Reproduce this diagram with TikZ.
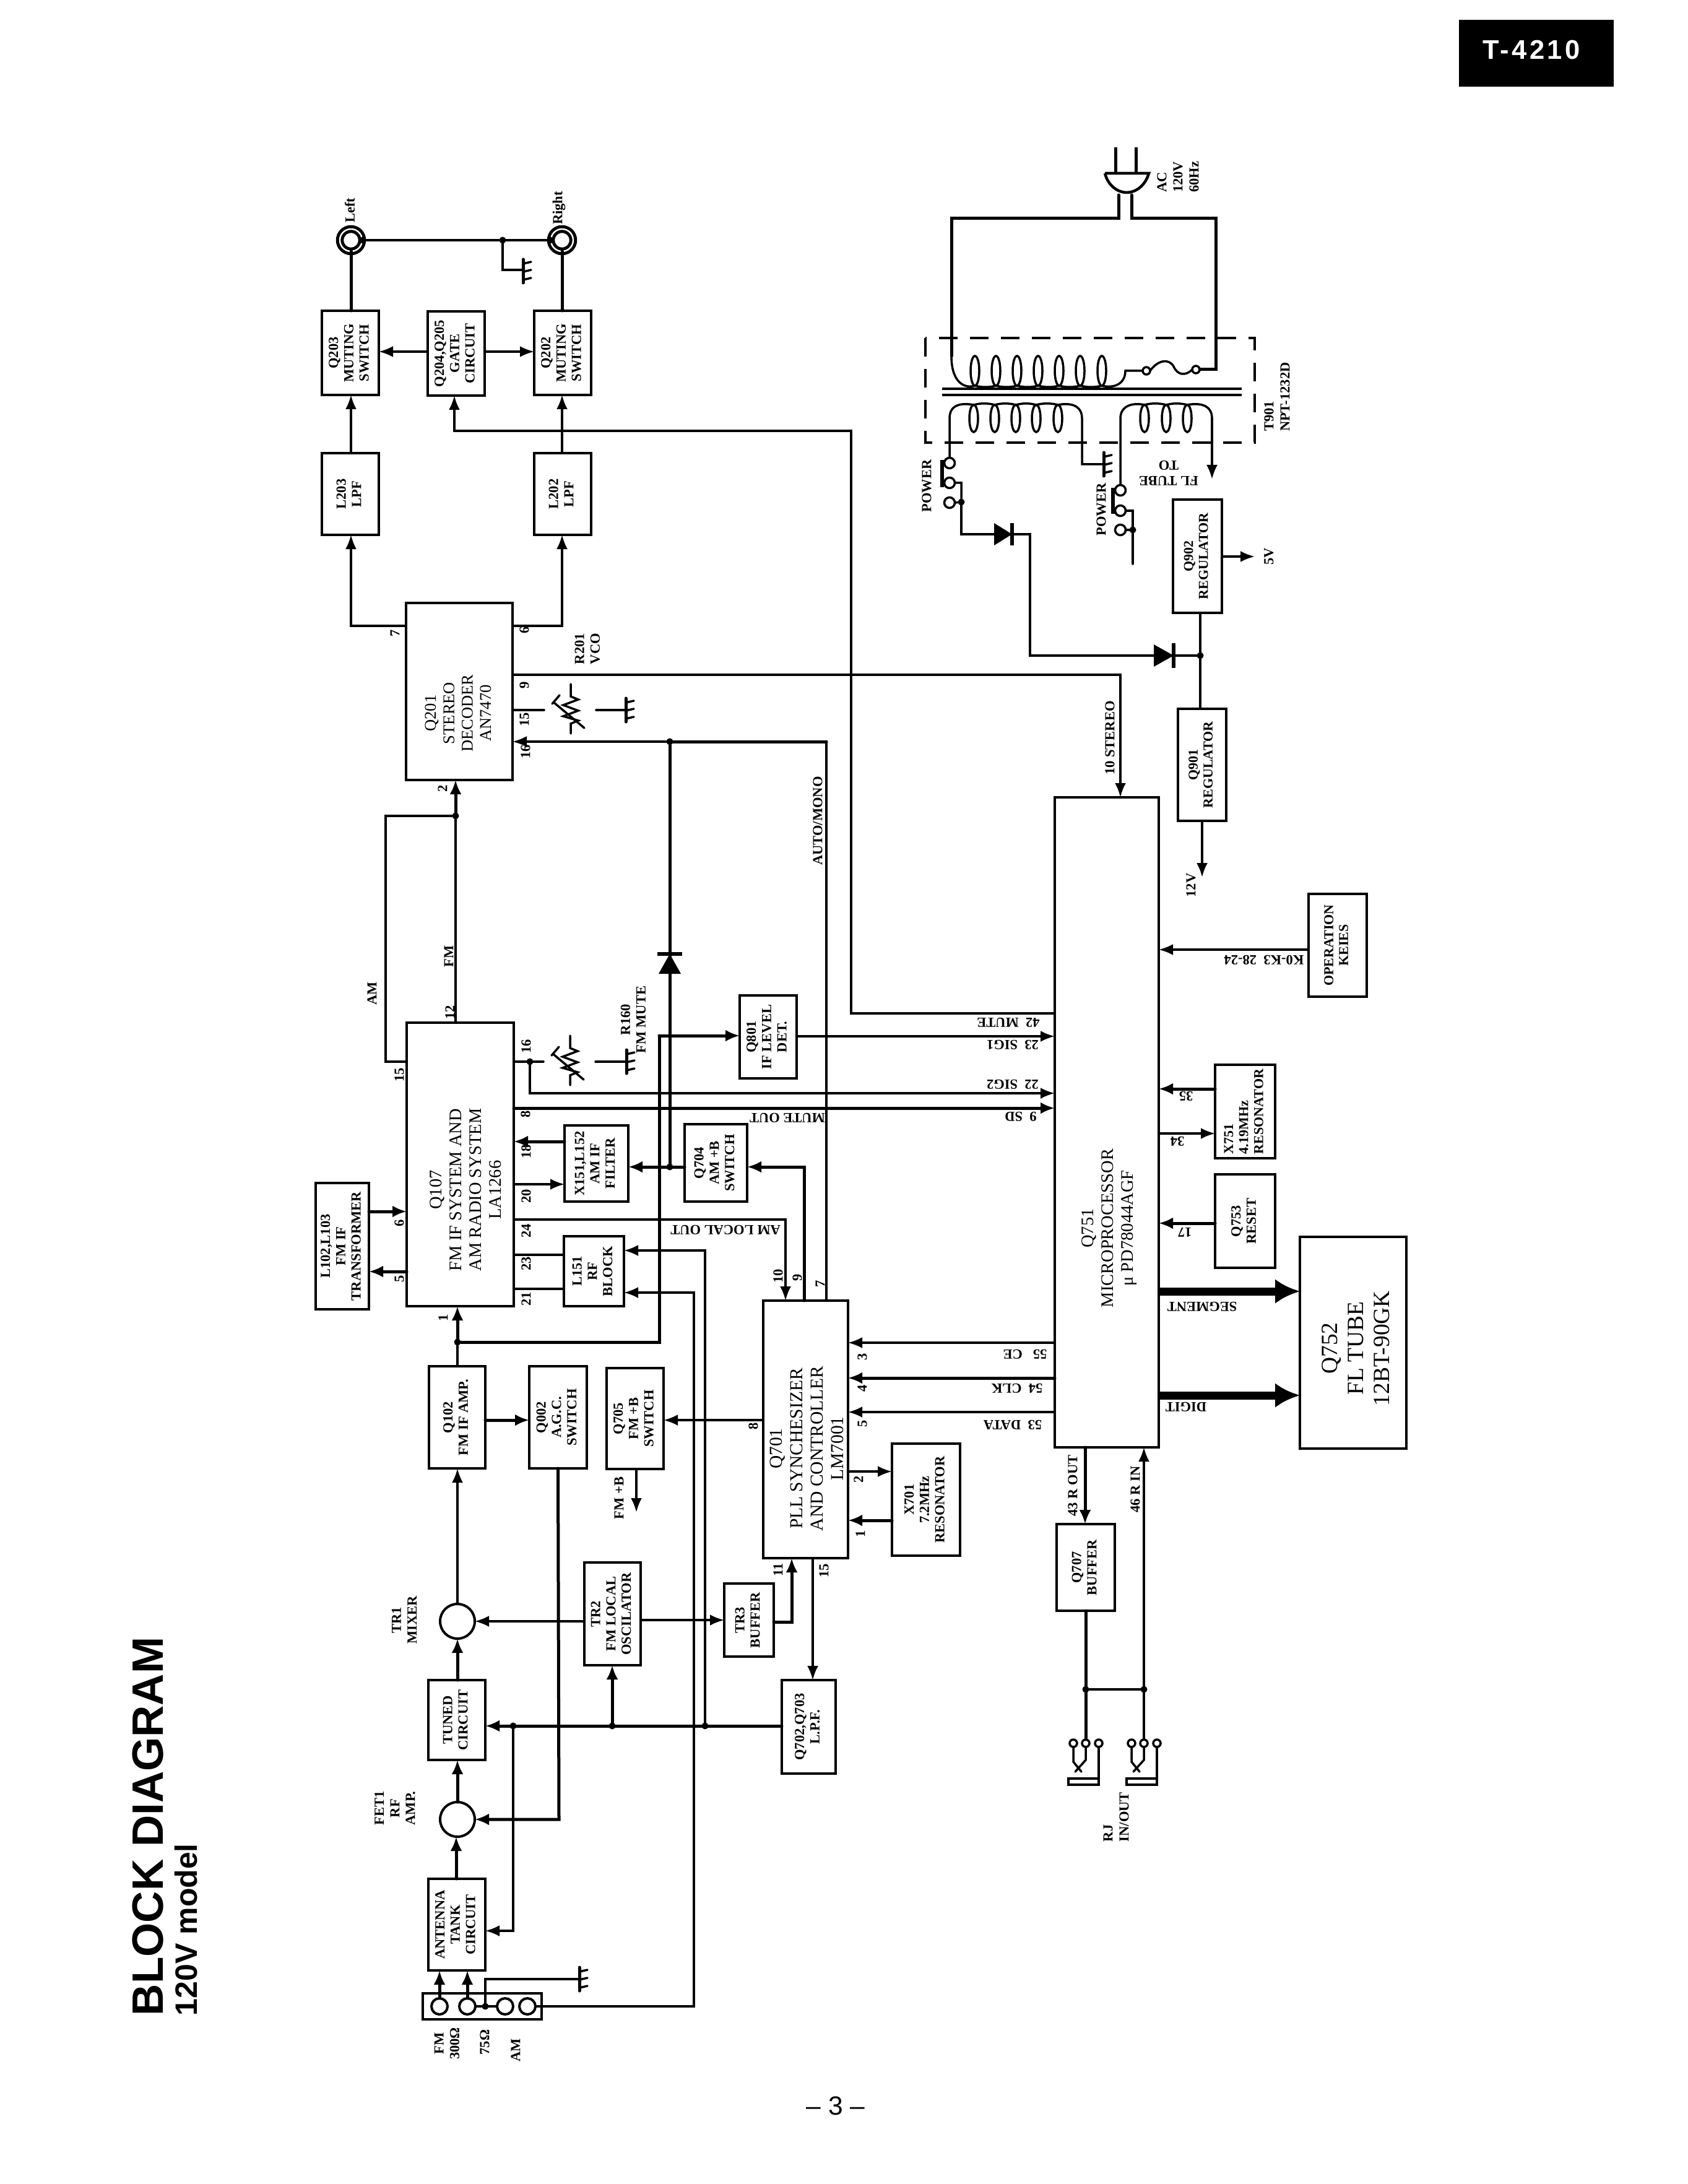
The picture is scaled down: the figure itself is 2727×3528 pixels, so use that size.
\documentclass[tikz,border=0pt]{standalone}
\usepackage{fontspec}
\usepackage{graphicx}
\usetikzlibrary{arrows.meta,calc}
\setmainfont{Liberation Serif}
\newfontfamily\hdfont{Liberation Sans}
\newfontfamily\tagfont[LetterSpace=10]{Liberation Sans}
\newcount\lbcnt
\newcommand\lfw{\bfseries}
\tikzset{
  wire/.style={line width=0.7pt,line cap=round,line join=miter},
  fat/.style={line width=1pt,line cap=round},
  arr/.style={wire,-{Latex[length=4.6pt,width=3.6pt]}},
  fatarr/.style={fat,-{Latex[length=4.6pt,width=3.8pt]}},
  hugearr/.style={line width=2.6pt,-{Latex[length=8pt,width=8pt]}},
  blk/.style={draw,line width=0.85pt,inner sep=0pt,outer sep=0pt,rectangle},
  lbl/.style={inner sep=0pt,outer sep=0pt,align=center},
  jn/.style={circle,fill=black,inner sep=0pt,outer sep=0pt,minimum size=2.2pt},
  ring/.style={circle,draw,line width=0.8pt,inner sep=0pt,outer sep=0pt,fill=white},
}
\newcommand\bx[7]{%
  \pgfmathsetmacro\bxcx{(#2+#4)/2}\pgfmathsetmacro\bxcy{(#3+#5)/2}%
  \pgfmathsetmacro\bxW{(#4-#2)*0.2}\pgfmathsetmacro\bxH{(#5-#3)*0.2}%
  \pgfmathsetmacro\lsk{#6*1.1}%
  \node[blk,minimum width=\bxW pt,minimum height=\bxH pt] (#1) at (\bxcx,\bxcy)
    {\rotatebox{90}{\fontsize{#6}{\lsk}\selectfont\lfw\begin{tabular}{@{}c@{}}#7\end{tabular}}};}
\newcommand\lb[5]{\global\advance\lbcnt by 1
  \pgfmathsetmacro\lsk{#4*1.12}%
  \node[lbl,rotate=#3,font=\fontsize{#4}{\lsk}\selectfont\lfw] (lb\the\lbcnt) at (#1,#2) {#5};}
\newcommand\lbr[5]{{\renewcommand\lfw{\mdseries}\lb{#1}{#2}{#3}{#4}{#5}}}
\newcommand\gnd[2]{\draw[fat] (#1,#2-19) -- (#1,#2+19);
  \foreach \dy in {-12,1,14} \draw[wire] (#1,#2+\dy) -- (#1+13,#2+\dy-3);}
\newcommand\varres[2]{%
  \draw[wire] (#1,#2-42) -- (#1,#2-22) -- (#1+12,#2-17) -- (#1-12,#2-8) -- (#1+12,#2+1) -- (#1-12,#2+10) -- (#1+12,#2+17) -- (#1,#2+22) -- (#1,#2+38);
  \draw[wire] (#1-27,#2-12) -- (#1+22,#2+29);
  \draw[wire] (#1-30,#2-10) -- (#1-18,#2-24);}
\newcommand\rjack[2]{%
  \node[ring,line width=.7pt,minimum size=2.4pt] (#2a) at (#1-20,2816) {};
  \node[ring,line width=.7pt,minimum size=2.4pt] (#2b) at (#1,2816) {};
  \node[ring,line width=.7pt,minimum size=2.4pt] (#2c) at (#1+21,2816) {};
  \draw[wire] (#2a.south) -- (#1-20,2846) -- (#1-7,2862);
  \draw[wire] (#2b.south) -- (#1,2843) -- (#1-17,2862);
  \draw[wire] (#2c.south) -- (#1+21,2883) -- (#1-28,2883) -- (#1-28,2873) -- (#1+21,2873);}
\begin{document}
\begin{tikzpicture}[x=0.2pt,y=-0.2pt]
\useasboundingbox (0,0) rectangle (2727,3528);
\fill[white] (0,0) rectangle (2727,3528);
% header and titles
\fill[black] (2357,32) rectangle (2607,140);
\node[lbl,text=white,font=\tagfont\bfseries\fontsize{8.7}{10}\selectfont] (tag) at (2474,81) {T-4210};
\node[lbl,rotate=90,anchor=base west,font=\hdfont\bfseries\fontsize{14.2}{17}\selectfont] (title) at (263,3256) {BLOCK DIAGRAM};
\node[lbl,rotate=90,anchor=base west,font=\hdfont\bfseries\fontsize{10}{12}\selectfont] (sub) at (318,3256) {120V model};
\node[lbl,font=\hdfont\fontsize{8.5}{10}\selectfont] (page) at (1350,3402) {– 3 –};
% blocks
\bx{ant}{692}{3035}{784}{3183}{4.5}{ANTENNA\\TANK\\CIRCUIT}
\bx{tuned}{692}{2714}{784}{2843}{4.5}{TUNED\\CIRCUIT}
\bx{q102}{693}{2207}{784}{2372}{4.5}{Q102\\FM IF AMP.}
\bx{q002}{855}{2207}{948}{2372}{4.5}{Q002\\A.G.C.\\SWITCH}
\bx{q705}{980}{2210}{1072}{2373}{4.5}{Q705\\FM +B\\SWITCH}
\bx{tr2}{944}{2524}{1035}{2690}{4.5}{TR2\\FM LOCAL\\OSCILATOR}
\bx{tr3}{1170}{2558}{1250}{2676}{4.5}{TR3\\BUFFER}
\bx{q702}{1263}{2714}{1350}{2865}{4.5}{Q702,Q703\\L.P.F.}
\bx{q701}{1233}{2101}{1370}{2517}{4.5}{}
\bx{x701}{1441}{2332}{1551}{2513}{4.5}{X701\\7.2MHz\\RESONATOR}
\bx{q107}{657}{1652}{830}{2110}{4.5}{}
\bx{l102}{510}{1911}{596}{2115}{4.5}{L102,L103\\FM IF\\TRANSFORMER}
\bx{x151}{912}{1818}{1015}{1941}{4.5}{X151,L152\\AM IF\\FILTER}
\bx{l151}{911}{1997}{1008}{2110}{4.5}{L151\\RF\\BLOCK}
\bx{q704}{1106}{1816}{1207}{1941}{4.5}{Q704\\AM +B\\SWITCH}
\bx{q801}{1195}{1608}{1287}{1742}{4.5}{Q801\\IF LEVEL\\DET.}
\bx{q201}{656}{974}{828}{1260}{4.5}{}
\bx{l203}{520}{732}{612}{864}{4.5}{L203\\LPF}
\bx{l202}{863}{732}{955}{864}{4.5}{L202\\LPF}
\bx{q203}{520}{502}{612}{638}{4.5}{Q203\\MUTING\\SWITCH}
\bx{q204}{691}{503}{783}{639}{4.5}{Q204,Q205\\GATE\\CIRCUIT}
\bx{q202}{863}{502}{955}{638}{4.5}{Q202\\MUTING\\SWITCH}
\bx{q751}{1704}{1288}{1872}{2338}{4.5}{}
\bx{q752}{2100}{1998}{2272}{2340}{4.5}{}
\bx{q707}{1707}{2462}{1801}{2602}{4.5}{Q707\\BUFFER}
\bx{x751}{1963}{1720}{2060}{1871}{4.4}{\multicolumn{1}{@{}l@{}}{X751}\\\multicolumn{1}{@{}l@{}}{4.19MHz}\\RESONATOR}
\bx{q753}{1963}{1897}{2060}{2048}{4.5}{Q753\\RESET}
\bx{oper}{2114}{1444}{2208}{1610}{4.4}{OPERATION\\KEIES}
\bx{q901}{1903}{1145}{1981}{1326}{4.4}{Q901\\REGULATOR}
\bx{q902}{1895}{807}{1974}{990}{4.4}{Q902\\REGULATOR}
\bx{strip}{683}{3220}{875}{3262}{4.5}{}
% block texts set apart from the centre
\lbr{752}{1922}{90}{5.7}{Q107\\FM IF SYSTEM AND\\AM RADIO SYSTEM\\LA1266}
\lbr{740}{1152}{90}{5.3}{Q201\\STEREO\\DECODER\\AN7470}
\lbr{1303}{2340}{90}{5.9}{Q701\\PLL SYNCHESIZER\\AND CONTROLLER\\LM7001}
\lbr{1792}{1984}{90}{5.7}{Q751\\MICROPROCESSOR\\μ PD78044AGF}
\lbr{2190}{2178}{90}{7.5}{Q752\\FL TUBE\\12BT-90GK}
% amplifiers, jacks, terminals
\node[ring,minimum size=11.2pt] (mix) at (739,2619) {};
\node[ring,minimum size=11.2pt] (fet) at (739,2939) {};
\node[ring,line width=1pt,minimum size=7.2pt,double,double distance=.5pt] (jl) at (567,388) {};
\node[ring,line width=1pt,minimum size=7.2pt,double,double distance=.5pt] (jr) at (908,388) {};
\node[ring,minimum size=5.2pt] (t1) at (710,3241) {};
\node[ring,minimum size=5.2pt] (t2) at (755,3241) {};
\node[ring,minimum size=5.2pt] (t3) at (816,3241) {};
\node[ring,minimum size=5.2pt] (t4) at (852,3241) {};
% junctions
\node[jn] (bus1) at (829,2788) {};
\node[jn] (bus2) at (989,2788) {};
\node[jn] (bus3) at (1139,2788) {};
\node[jn] (fmj) at (736,1318) {};
\node[jn] (ifj) at (739,2168) {};
\node[jn] (amj) at (1082,1885) {};
\node[jn] (mutej) at (1082,1198) {};
\node[jn] (pin16) at (856,1715) {};
\node[jn] (gndj) at (812,388) {};
\node[jn] (antj) at (784,3241) {};
\node[jn] (rj1) at (1754,2729) {};
\node[jn] (rj2) at (1848,2729) {};
\node[jn] (supj) at (1939,1059) {};
\node[jn] (swa) at (1553,811) {};
\node[jn] (swb) at (1830,856) {};
\node[jn] (jle) at (586,388) {};
\node[jn] (jrw) at (889,388) {};
% signal chain
\draw[fatarr] (ant.north -| 737,0) -- (fet.south -| 737,0);
\draw[fatarr] (fet.north) -- (tuned.south -| fet.north);
\draw[fatarr] (tuned.north -| mix.south) -- (mix.south);
\draw[arr] (mix.north) -- (q102.south -| mix.north);
\draw[wire] (q102.north -| ifj) -- (ifj);
\draw[fatarr] (ifj) -- (q107.south -| ifj);
\draw[fatarr] (t1.north) -- (ant.south -| t1.north);
\draw[fatarr] (t2.north) -- (ant.south -| t2.north);
\draw[wire] (t2.east) -- (t3.west);
\draw[wire] (antj) -- (784,3197) -- (936,3197);
\gnd{936}{3197}
\draw[arr] (t4.east) -- (1121,3241) -- (1121,2088) -- (l151.east |- 0,2088);
\draw[fatarr] (q702.west |- bus1) -- (tuned.east |- bus1);
\draw[arr] (bus1) -- (829,3119) -- (ant.east |- 0,3119);
\draw[fatarr] (bus2) -- (tr2.south -| bus2);
\draw[arr] (bus3) -- (1139,2020) -- (l151.east |- 0,2020);
\draw[fatarr] (q002.south) -- (903,2939) -- (fet.east);
\draw[fatarr] (q102.east |- 0,2294) -- (q002.west |- 0,2294);
\draw[arr] (tr2.west |- mix) -- (mix.east);
\draw[arr] (tr2.east |- 0,2617) -- (tr3.west |- 0,2617);
\draw[fatarr] (tr3.east |- 0,2620) -- (1279,2620) -- (q701.south -| 1279,0);
\draw[arr] (q701.south -| 1313,0) -- (q702.north -| 1313,0);
\draw[arr] (q701.west |- 0,2294) -- (q705.east |- 0,2294);
\draw[arr] (q705.south -| 1028,0) -- (1028,2443);
\draw[arr] (q701.east |- 0,2377) -- (x701.west |- 0,2377);
\draw[fatarr] (x701.west |- 0,2456) -- (q701.east |- 0,2456);
% Q107
\draw[fatarr] (x151.west |- 0,1844) -- (q107.east |- 0,1844);
\draw[arr] (q107.east |- 0,1913) -- (x151.west |- 0,1913);
\draw[arr] (q107.east |- 0,1970) -- (1269,1970) -- (q701.north -| 1269,0);
\draw[wire] (q107.east |- 0,2027) -- (l151.west |- 0,2027);
\draw[wire] (q107.east |- 0,2082) -- (l151.west |- 0,2082);
\draw[fatarr] (l102.east |- 0,1957) -- (q107.west |- 0,1957);
\draw[fatarr] (q107.west |- 0,2054) -- (l102.east |- 0,2054);
\draw[wire] (q107.west |- 0,1715) -- (623,1715) -- (623,1318) -- (fmj);
\draw[wire] (q107.north -| fmj) -- (fmj);
\draw[fatarr] (fmj) -- (q201.south -| fmj);
\draw[wire] (q107.east |- pin16) -- (878,1715);
\draw[arr] (pin16) -- (856,1766) -- (q751.west |- 0,1766);
\draw[fatarr] (q107.east |- 0,1790) -- (q751.west |- 0,1790);
\varres{921}{1715}
\draw[wire] (962,1715) -- (1012,1715);
\gnd{1012}{1715}
% mute / AM +B network
\draw[fatarr] (q704.west |- amj) -- (x151.east |- amj);
\draw[fat] (amj) -- (mutej);
\fill (1082,1541) -- (1100,1573) -- (1064,1573) -- cycle;
\draw[line width=1.1pt] (1062,1541) -- (1102,1541);
\draw[fat] (ifj) -- (1065,2168) -- (1065,1673);
\draw[fatarr] (1065,1673) -- (q801.west |- 0,1673);
\draw[arr] (q801.east |- 0,1674) -- (q751.west |- 0,1674);
\draw[fatarr] (q701.north -| 1299,0) -- (1299,1885) -- (q704.east |- 0,1885);
\draw[arr] (q701.north -| 1335,0) -- (1335,1198) -- (q201.east |- 0,1198);
\draw[fat] (mutej) -- (1335,1198);
\draw[arr] (q751.west |- 0,1637) -- (1375,1637) -- (1375,696) -- (734,696) -- (q204.south -| 734,0);
% stereo decoder
\draw[arr] (q201.west |- 0,1011) -- (567,1011) -- (l203.south -| 567,0);
\draw[arr] (q201.east |- 0,1011) -- (908,1011) -- (l202.south -| 908,0);
\draw[arr] (q201.east |- 0,1090) -- (1810,1090) -- (q751.north -| 1810,0);
\draw[wire] (q201.east |- 0,1147) -- (879,1147);
\varres{922}{1147}
\draw[wire] (963,1147) -- (1011,1147);
\gnd{1011}{1147}
\draw[arr] (l203.north -| 567,0) -- (q203.south -| 567,0);
\draw[arr] (l202.north -| 908,0) -- (q202.south -| 908,0);
\draw[arr] (q204.west |- 0,568) -- (q203.east |- 0,568);
\draw[arr] (q204.east |- 0,568) -- (q202.west |- 0,568);
\draw[fat] (q203.north -| jl) -- (jl.south);
\draw[fat] (q202.north -| jr) -- (jr.south);
\draw[wire] (jle) -- (jrw);
\draw[wire] (gndj) -- (812,436) -- (845,436);
\gnd{845}{438}
% microprocessor
\draw[arr] (q751.west |- 0,2169) -- (q701.east |- 0,2169);
\draw[fatarr] (q751.west |- 0,2226) -- (q701.east |- 0,2226);
\draw[arr] (q751.west |- 0,2281) -- (q701.east |- 0,2281);
\draw[hugearr] (q751.east |- 0,2086) -- (q752.west |- 0,2086);
\draw[hugearr] (q751.east |- 0,2254) -- (q752.west |- 0,2254);
\draw[arr] (oper.west |- 0,1534) -- (q751.east |- 0,1534);
\draw[fatarr] (x751.west |- 0,1759) -- (q751.east |- 0,1759);
\draw[arr] (q751.east |- 0,1831) -- (x751.west |- 0,1831);
\draw[fatarr] (q753.west |- 0,1976) -- (q751.east |- 0,1976);
\draw[fatarr] (q751.south -| 1753,0) -- (q707.north -| 1753,0);
\rjack{1754}{ja}
\rjack{1848}{jb}
\draw[fat] (q707.south -| rj1) -- (jab.north);
\draw[wire] (rj1) -- (rj2);
\draw[arr] (jbb.north) -- (q751.south -| jbb);
% supply
\draw[wire] (q902.south -| supj) -- (q901.north -| supj);
\draw[arr] (q902.east |- 0,899) -- (2027,899);
\draw[arr] (q901.south -| 1942,0) -- (1942,1417);
\fill (1864,1041) -- (1896,1059) -- (1864,1077) -- cycle;
\draw[line width=1.1pt] (1896,1039) -- (1896,1079);
\draw[wire] (supj) -- (1664,1059) -- (1664,863) -- (1635,863);
\fill (1606,845) -- (1635,863) -- (1606,881) -- cycle;
\draw[line width=1.1pt] (1635,845) -- (1635,881);
\draw[wire] (1606,863) -- (swa |- 0,863) -- (swa);
% transformer
\draw[line width=.8pt,dashed,dash pattern=on 6pt off 4pt] (1495,546) rectangle (2027,715);
\draw[line width=.9pt] (1522,628) -- (2006,628) (1522,638) -- (2006,638);
\foreach \cxx in {1575,1609,1643,1677,1711,1745,1780} \draw[wire] (\cxx,599) ellipse [x radius=7,y radius=24];
\foreach \ca/\cb in {1575/1609,1609/1643,1643/1677,1677/1711,1711/1745,1745/1780} \draw[wire] (\ca,623) .. controls (\ca+12,626) and (\cb-12,626) .. (\cb,623);
\draw[fat] (1807,315) -- (1807,353) -- (1537,353) -- (1537,575);
\draw[wire] (1537,575) .. controls (1537,620) and (1560,628) .. (1575,623);
\draw[wire] (1780,623) .. controls (1800,628) and (1818,620) .. (1818,599) -- (1845,599);
\node[ring,line width=.7pt,minimum size=2.4pt] (fa) at (1852,599) {};
\node[ring,line width=.7pt,minimum size=2.4pt] (fb) at (1932,597) {};
\draw[wire] (fa.east) .. controls (1870,582) and (1888,578) .. (1896,592) .. controls (1902,606) and (1915,608) .. (fb.west);
\draw[fat] (fb.east) -- (1964,597) -- (1964,353) -- (1828,353) -- (1828,315);
\foreach \cxx in {1573,1607,1641,1674,1709,1849,1884,1918} \draw[wire] (\cxx,676) ellipse [x radius=7,y radius=22];
\foreach \ca/\cb in {1573/1607,1607/1641,1641/1674,1674/1709,1849/1884,1884/1918} \draw[wire] (\ca,654) .. controls (\ca+12,651) and (\cb-12,651) .. (\cb,654);
\node[ring,line width=.7pt,minimum size=3.4pt] (sa1) at (1534,748) {};
\node[ring,line width=.7pt,minimum size=3.4pt] (sa2) at (1534,780) {};
\node[ring,line width=.7pt,minimum size=3.4pt] (sa3) at (1534,812) {};
\node[ring,line width=.7pt,minimum size=3.4pt] (sb1) at (1810,792) {};
\node[ring,line width=.7pt,minimum size=3.4pt] (sb2) at (1810,825) {};
\node[ring,line width=.7pt,minimum size=3.4pt] (sb3) at (1810,856) {};
\draw[wire] (sa1.north) -- (1534,676) .. controls (1534,655) and (1550,650) .. (1573,654);
\draw[wire] (1709,654) .. controls (1730,650) and (1748,655) .. (1748,676) -- (1748,750) -- (1783,750);
\gnd{1783}{750}
\draw[wire] (sb1.north) -- (1810,676) .. controls (1810,655) and (1830,650) .. (1849,654);
\draw[wire] (1918,654) .. controls (1940,650) and (1958,655) .. (1958,676);
\draw[arr] (1958,676) -- (1958,774);
\draw[line width=1.2pt] (1522,743) -- (1522,787) (1798,788) -- (1798,830);
\draw[wire] (sa2.east) -- (swa |- sa2) -- (swa) (sa3.east) -- (swa);
\draw[wire] (sb2.east) -- (swb |- sb2) -- (swb) -- (1830,911) (sb3.east) -- (swb);
% plug
\draw[line width=1pt] (1802,238) -- (1802,280) (1835,238) -- (1835,280);
\draw[line width=.9pt] (1785,280) -- (1856,280) .. controls (1850,300) and (1835,311) .. (1820,311) .. controls (1806,311) and (1790,300) .. (1785,280);
% labels
\lb{565}{340}{90}{4.5}{Left}
\lb{903}{336}{90}{4.5}{Right}
\lb{949}{1048}{90}{4.5}{R201\\VCO}
\lb{638}{1023}{90}{4.5}{7}
\lb{847}{1018}{90}{4.5}{6}
\lb{847}{1107}{90}{4.5}{9}
\lb{847}{1162}{90}{4.5}{15}
\lb{849}{1214}{90}{4.5}{16}
\lb{715}{1274}{90}{4.5}{2}
\lb{601}{1605}{90}{4.5}{AM}
\lb{725}{1545}{90}{4.5}{FM}
\lb{727}{1635}{90}{4.5}{12}
\lb{645}{1736}{90}{4.5}{15}
\lb{850}{1690}{90}{4.5}{16}
\lb{849}{1800}{90}{4.5}{8}
\lb{850}{1860}{90}{4.5}{18}
\lb{850}{1932}{90}{4.5}{20}
\lb{850}{1988}{90}{4.5}{24}
\lb{850}{2041}{90}{4.5}{23}
\lb{850}{2098}{90}{4.5}{21}
\lb{645}{1976}{90}{4.5}{6}
\lb{645}{2066}{90}{4.5}{5}
\lb{716}{2129}{90}{4.5}{1}
\lb{1023}{1647}{90}{4.5}{R160\\FM MUTE}
\lb{1272}{1806}{180}{4.5}{MUTE OUT}
\lb{1172}{1987}{180}{4.5}{AM LOCAL OUT}
\lb{1257}{2061}{90}{4.5}{10}
\lb{1288}{2064}{90}{4.5}{9}
\lb{1325}{2074}{90}{4.5}{7}
\lb{1393}{2192}{90}{4.5}{3}
\lb{1393}{2243}{90}{4.5}{4}
\lb{1393}{2300}{90}{4.5}{5}
\lb{1387}{2390}{90}{4.5}{2}
\lb{1390}{2478}{90}{4.5}{1}
\lb{1217}{2304}{90}{4.5}{8}
\lb{1257}{2536}{90}{4.5}{11}
\lb{1331}{2537}{90}{4.5}{15}
\lb{653}{2617}{90}{4.5}{TR1\\MIXER}
\lb{638}{2921}{90}{4.5}{FET1\\RF\\AMP.}
\lb{722}{3301}{90}{4.5}{FM\\300Ω}
\lb{783}{3299}{90}{4.5}{75Ω}
\lb{833}{3312}{90}{4.5}{AM}
\lb{1000}{2420}{90}{4.5}{FM +B}
\lb{1629}{1652}{180}{4.5}{42~~MUTE}
\lb{1636}{1688}{180}{4.5}{23~~SIG1}
\lb{1636}{1752}{180}{4.5}{22~~SIG2}
\lb{1649}{1804}{180}{4.5}{9~~SD}
\lb{2042}{1551}{180}{4.5}{K0-K3~~28-24}
\lb{1916}{1771}{180}{4.5}{35}
\lb{1902}{1844}{180}{4.5}{34}
\lb{1914}{1991}{180}{4.5}{17}
\lb{1942}{2111}{180}{4.5}{SEGMENT}
\lb{1916}{2273}{180}{4.5}{DIGIT}
\lb{1321}{1326}{90}{4.5}{AUTO/MONO}
\lb{1924}{1430}{90}{4.5}{12V}
\lb{1793}{1192}{90}{4.5}{10 STEREO}
\lb{1656}{2188}{180}{4.5}{55~~~CE}
\lb{1643}{2243}{180}{4.5}{54~~CLK}
\lb{1636}{2302}{180}{4.5}{53~~DATA}
\lb{1733}{2400}{90}{4.5}{43 R OUT}
\lb{1834}{2406}{90}{4.5}{46 R IN}
\node[lbl,rotate=90,anchor=west,align=left,font=\bfseries\fontsize{4.5}{5.2}\selectfont] (rjl) at (1803,2975) {RJ\\IN/OUT};
\node[lbl,rotate=90,anchor=west,align=left,font=\bfseries\fontsize{4.5}{5.2}\selectfont] (acl) at (1903,311) {AC\\120V\\60Hz};
\node[lbl,rotate=90,anchor=west,align=left,font=\bfseries\fontsize{4.5}{5.2}\selectfont] (t9l) at (2063,697) {T901\\NPT-1232D};
\lb{1497}{785}{90}{4.5}{POWER}
\lb{1779}{823}{90}{4.5}{POWER}
\lb{1888}{764}{180}{4.5}{FL TUBE\\TO}
\lb{2050}{899}{90}{4.5}{5V}
\end{tikzpicture}
\end{document}
